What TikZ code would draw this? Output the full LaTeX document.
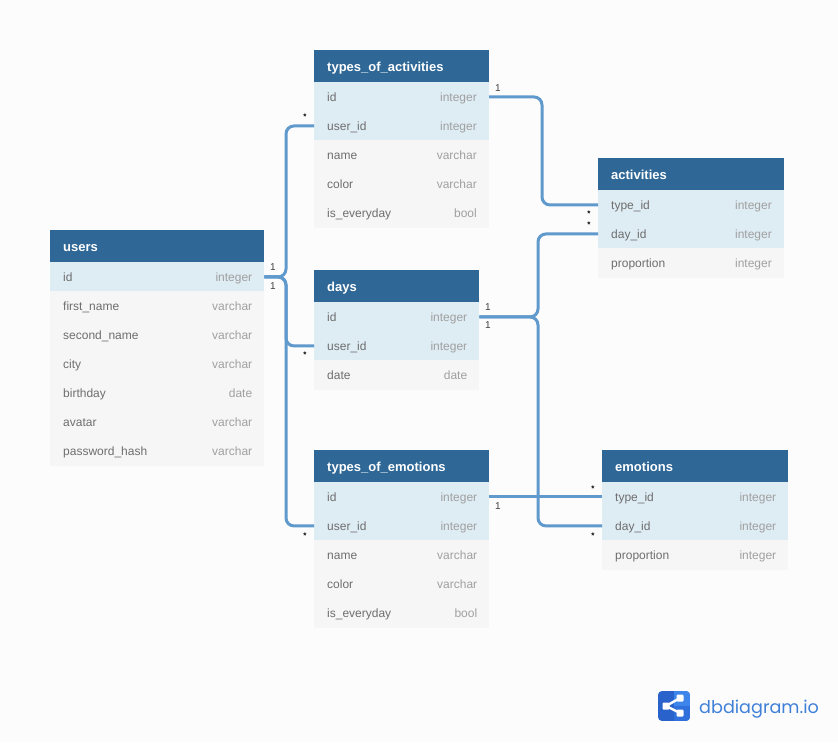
\documentclass[tikz,border=0pt]{standalone}
\usepackage{fontspec}
\setmainfont{Liberation Sans}
\newfontfamily\logofont{Poppins}
\usetikzlibrary{calc}
\definecolor{pagebg}{HTML}{FCFCFC}
\definecolor{headbg}{HTML}{2F6796}
\definecolor{hlbg}{HTML}{DEECF4}
\definecolor{rowbg}{HTML}{F6F6F6}
\definecolor{conncol}{HTML}{6099CC}
\definecolor{fieldcol}{HTML}{6E6E6E}
\definecolor{typecol}{HTML}{A0A0A0}
\definecolor{logodark}{HTML}{2A62CC}
\definecolor{logomid}{HTML}{2F70DC}
\definecolor{logolight}{HTML}{3D85EA}
\definecolor{logotext}{HTML}{3F80D8}
\tikzset{
  x=1pt,y=-1pt,
  headbox/.style={fill=headbg,draw=none,inner sep=0pt,minimum height=32pt,anchor=north west},
  rowbox/.style={fill=rowbg,draw=none,inner sep=0pt,minimum height=29.3pt,anchor=north west},
  hlbox/.style={rowbox,fill=hlbg},
  headtext/.style={text=white,font=\fontsize{13}{14}\selectfont\bfseries,anchor=base west,inner sep=0pt},
  fieldtext/.style={text=fieldcol,font=\fontsize{12}{14}\selectfont,anchor=base west,inner sep=0pt},
  typetext/.style={text=typecol,font=\fontsize{12}{14}\selectfont,anchor=base east,inner sep=0pt},
  conn/.style={draw=conncol,line width=3pt,rounded corners=8pt},
  onelabel/.style={text=black!75,font=\fontsize{10}{10}\selectfont,inner sep=0pt},
  manylabel/.style={text=black,font=\fontsize{8}{10}\selectfont\bfseries,inner sep=0pt},
  logonode/.style={fill=white,rounded corners=1pt},
}
% #1 table id, #2 x, #3 y, #4 width, #5 title
\newcommand{\dbhead}[5]{%
  \node[headbox,minimum width=#4pt] (#1) at (#2,#3) {};
  \node[headtext] (#1-title) at ([xshift=13pt,yshift=-5pt]#1.west) {#5};
}
% #1 style, #2 row id, #3 table id, #4 row number from 0, #5 field, #6 type
\newcommand{\dbrow}[6]{%
  \node[#1,minimum width=\wd0] (#3-#2) at ($(#3.south west)+(0,{#4*29-0.3})$) {};
  \node[fieldtext] (#3-#2-f) at ([xshift=13pt,yshift=-4.2pt]#3-#2.west) {#5};
  \node[typetext] (#3-#2-t) at ([xshift=-12pt,yshift=-4.2pt]#3-#2.east) {#6};
}
\newcommand{\tablewidth}[1]{\setbox0=\hbox{}\wd0=#1pt\relax}
\begin{document}
\begin{tikzpicture}
\useasboundingbox (0,0) rectangle (838,742);
\fill[pagebg] (0,0) rectangle (838,742);

% users
\tablewidth{214}
\dbhead{users}{50}{230}{214}{users}
\dbrow{hlbox}{id}{users}{0}{id}{integer}
\dbrow{rowbox}{first}{users}{1}{first\_name}{varchar}
\dbrow{rowbox}{second}{users}{2}{second\_name}{varchar}
\dbrow{rowbox}{city}{users}{3}{city}{varchar}
\dbrow{rowbox}{birthday}{users}{4}{birthday}{date}
\dbrow{rowbox}{avatar}{users}{5}{avatar}{varchar}
\dbrow{rowbox}{hash}{users}{6}{password\_hash}{varchar}

% types_of_activities
\tablewidth{174.6}
\dbhead{toa}{314}{50}{174.6}{types\_of\_activities}
\dbrow{hlbox}{id}{toa}{0}{id}{integer}
\dbrow{hlbox}{user}{toa}{1}{user\_id}{integer}
\dbrow{rowbox}{name}{toa}{2}{name}{varchar}
\dbrow{rowbox}{color}{toa}{3}{color}{varchar}
\dbrow{rowbox}{every}{toa}{4}{is\_everyday}{bool}

% days
\tablewidth{165}
\dbhead{days}{314}{270}{165}{days}
\dbrow{hlbox}{id}{days}{0}{id}{integer}
\dbrow{hlbox}{user}{days}{1}{user\_id}{integer}
\dbrow{rowbox}{date}{days}{2}{date}{date}

% types_of_emotions
\tablewidth{175}
\dbhead{toe}{314}{450}{175}{types\_of\_emotions}
\dbrow{hlbox}{id}{toe}{0}{id}{integer}
\dbrow{hlbox}{user}{toe}{1}{user\_id}{integer}
\dbrow{rowbox}{name}{toe}{2}{name}{varchar}
\dbrow{rowbox}{color}{toe}{3}{color}{varchar}
\dbrow{rowbox}{every}{toe}{4}{is\_everyday}{bool}

% activities
\tablewidth{185.6}
\dbhead{act}{598}{158}{185.6}{activities}
\dbrow{hlbox}{type}{act}{0}{type\_id}{integer}
\dbrow{hlbox}{day}{act}{1}{day\_id}{integer}
\dbrow{rowbox}{prop}{act}{2}{proportion}{integer}

% emotions
\tablewidth{186}
\dbhead{emo}{602}{450}{186}{emotions}
\dbrow{hlbox}{type}{emo}{0}{type\_id}{integer}
\dbrow{hlbox}{day}{emo}{1}{day\_id}{integer}
\dbrow{rowbox}{prop}{emo}{2}{proportion}{integer}

% connector bend columns
\coordinate (busU) at (286,0);
\coordinate (busA) at (542,0);
\coordinate (busD) at (538,0);

\draw[conn] (users-id.east) -- (users-id.east -| busU) -- (busU |- toa-user.west) -- (toa-user.west);
\draw[conn] (users-id.east) -- (users-id.east -| busU) -- (busU |- days-user.west) -- (days-user.west);
\draw[conn] (users-id.east) -- (users-id.east -| busU) -- (busU |- toe-user.west) -- (toe-user.west);
\draw[conn] (toa-id.east) -- (toa-id.east -| busA) -- (busA |- act-type.west) -- (act-type.west);
\draw[conn] (days-id.east) -- (days-id.east -| busD) -- (busD |- act-day.west) -- (act-day.west);
\draw[conn] (days-id.east) -- (days-id.east -| busD) -- (busD |- emo-day.west) -- (emo-day.west);
\draw[conn] (toe-id.east) -- (emo-type.west);

% cardinality labels
\node[onelabel] (c1) at (273,267) {1};
\node[onelabel] (c2) at (273,286) {1};
\node[onelabel] (c3) at (498,88) {1};
\node[onelabel] (c4) at (488,307.5) {1};
\node[onelabel] (c5) at (488,325.5) {1};
\node[onelabel] (c6) at (498,506) {1};
\node[manylabel,anchor=base] (m1) at (305,119) {*};
\node[manylabel,anchor=base] (m2) at (305,357) {*};
\node[manylabel,anchor=base] (m3) at (305,538) {*};
\node[manylabel,anchor=base] (m4) at (589,216.5) {*};
\node[manylabel,anchor=base] (m5) at (589,227) {*};
\node[manylabel,anchor=base] (m6) at (593,491) {*};
\node[manylabel,anchor=base] (m7) at (593,538) {*};

% logo
\begin{scope}
  \clip[rounded corners=4pt] (658,691) rectangle (690,721);
  \fill[logodark] (658,691) rectangle (690,721);
  \fill[logomid] (674,706) rectangle (690,721);
  \fill[logolight] (674,691) rectangle (690,706);
\end{scope}
\draw[white,line width=2.4pt] (680,698) -- (666,706) -- (680,713);
\fill[logonode] (662.5,702.5) rectangle (669.5,709.5);
\fill[logonode] (676.5,694.5) rectangle (683.5,701.5);
\fill[logonode] (676.5,709.5) rectangle (683.5,716.5);
\node[text=logotext,font=\logofont\fontsize{17.6}{20}\selectfont,anchor=base west,inner sep=0pt] (logotxt) at (699,713) {dbdiagram.io};
\end{tikzpicture}
\end{document}
